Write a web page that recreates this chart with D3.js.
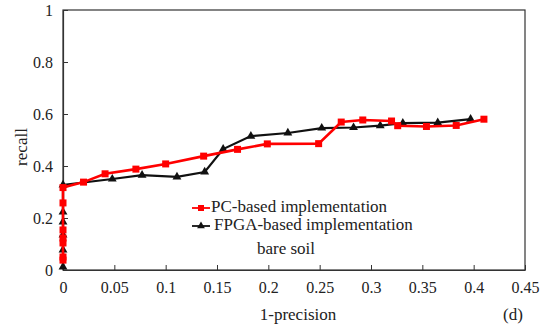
<!DOCTYPE html>
<html>
<head>
<meta charset="utf-8">
<script src="https://cdn.jsdelivr.net/npm/d3@7"></script>
<style>
  body { margin: 0; background: #fff; }
  svg text { font-family: "Times New Roman", "Liberation Serif", "DejaVu Serif", serif; fill: #222; }
</style>
</head>
<body>
<div id="chart"></div>
<script>
// data
const pcX = [0, 0, 0, 0, 0, 0, 0, 0.02, 0.041, 0.071, 0.1, 0.137, 0.17, 0.199, 0.249, 0.271, 0.292, 0.32, 0.326, 0.354, 0.383, 0.41];
const pcY = [0.038, 0.05, 0.104, 0.123, 0.154, 0.258, 0.317, 0.338, 0.37, 0.388, 0.408, 0.438, 0.464, 0.485, 0.486, 0.569, 0.577, 0.573, 0.555, 0.552, 0.556, 0.58];
const fpgaX = [0, 0, 0, 0, 0, 0, 0.048, 0.077, 0.111, 0.138, 0.156, 0.183, 0.219, 0.252, 0.283, 0.309, 0.331, 0.365, 0.397];
const fpgaY = [0.012, 0.077, 0.135, 0.185, 0.223, 0.327, 0.35, 0.365, 0.358, 0.377, 0.465, 0.515, 0.527, 0.546, 0.548, 0.555, 0.565, 0.567, 0.58];

const xTicks = [0, 0.05, 0.1, 0.15, 0.2, 0.25, 0.3, 0.35, 0.4, 0.45];
const xTickLabels = ["0", "0.05", "0.1", "0.15", "0.2", "0.25", "0.3", "0.35", "0.4", "0.45"];
const yTicks = [0, 0.2, 0.4, 0.6, 0.8, 1];
const yTickLabels = ["0", "0.2", "0.4", "0.6", "0.8", "1"];

const seriesNames = ["PC-based implementation", "FPGA-based implementation"];

const FONT = '"Times New Roman", "Liberation Serif", "DejaVu Serif", serif';

// dimensions
const WIDTH = 540;
const HEIGHT = 327;
const MARGIN_TOP = 10;
const MARGIN_LEFT = 63;
const MARGIN_RIGHT = 15;
const MARGIN_BOTTOM = 57;

const $svg = d3.select('#chart').append('svg')
  .attr('width', WIDTH)
  .attr('height', HEIGHT);

const scaleX = d3.scaleLinear()
  .domain([0, 0.45])
  .range([MARGIN_LEFT, WIDTH - MARGIN_RIGHT]);

const scaleY = d3.scaleLinear()
  .domain([0, 1])
  .range([HEIGHT - MARGIN_BOTTOM, MARGIN_TOP]);

// frame
$svg.append('rect')
  .attr('x', scaleX(0))
  .attr('y', scaleY(1))
  .attr('width', scaleX(0.45) - scaleX(0))
  .attr('height', scaleY(0) - scaleY(1))
  .attr('fill', 'none')
  .attr('stroke', '#333')
  .attr('stroke-width', 1.2);

// axes
const axisX = $svg.append('g')
  .attr('transform', `translate(0, ${scaleY(0)})`)
  .call(d3.axisBottom(scaleX)
    .tickValues(xTicks)
    .tickFormat((d, i) => xTickLabels[i])
    .tickSizeInner(-5)
    .tickSizeOuter(0)
    .tickPadding(12));

const axisY = $svg.append('g')
  .attr('transform', `translate(${scaleX(0)}, 0)`)
  .call(d3.axisLeft(scaleY)
    .tickValues(yTicks)
    .tickFormat((d, i) => yTickLabels[i])
    .tickSizeInner(-5)
    .tickSizeOuter(0)
    .tickPadding(10));

$svg.selectAll('g').attr('font-family', null);
$svg.selectAll('.domain').attr('stroke', '#333').attr('stroke-width', 1.2);
$svg.selectAll('.tick line').attr('stroke', '#333');
$svg.selectAll('.tick text')
  .style('font-family', FONT)
  .style('font-size', '16px')
  .attr('fill', '#222');

// axis titles
$svg.append('text')
  .attr('x', 23)
  .attr('y', 147)
  .attr('transform', 'rotate(-90, 23, 147)')
  .attr('text-anchor', 'middle')
  .attr('dominant-baseline', 'middle')
  .style('font-size', '17px')
  .text('recall');

$svg.append('text')
  .attr('x', 298)
  .attr('y', 320)
  .attr('text-anchor', 'middle')
  .style('font-size', '17px')
  .text('1-precision');

$svg.append('text')
  .attr('x', 513)
  .attr('y', 320)
  .attr('text-anchor', 'middle')
  .style('font-size', '17px')
  .text('(d)');

// lines
const line = d3.line()
  .x(d => scaleX(d[0]))
  .y(d => scaleY(d[1]));

const pcData = pcX.map((x, i) => [x, pcY[i]]);
const fpgaData = fpgaX.map((x, i) => [x, fpgaY[i]]);

const triangle = d3.symbol().type(d3.symbolTriangle).size(34);

$svg.append('path')
  .datum(fpgaData)
  .attr('d', line)
  .attr('fill', 'none')
  .attr('stroke', '#111')
  .attr('stroke-width', 2.2);

$svg.append('g').selectAll('path')
  .data(fpgaData)
  .join('path')
  .attr('d', triangle)
  .attr('transform', d => `translate(${scaleX(d[0])}, ${scaleY(d[1])})`)
  .attr('fill', '#111');

$svg.append('path')
  .datum(pcData)
  .attr('d', line)
  .attr('fill', 'none')
  .attr('stroke', '#ff0000')
  .attr('stroke-width', 2.6);

$svg.append('g').selectAll('rect')
  .data(pcData)
  .join('rect')
  .attr('x', d => scaleX(d[0]) - 3.5)
  .attr('y', d => scaleY(d[1]) - 3.5)
  .attr('width', 7)
  .attr('height', 7)
  .attr('fill', '#ff0000');

// legend
const $legend = $svg.append('g');
const legendRows = [
  { name: seriesNames[0], color: '#ff0000', y: 208 },
  { name: seriesNames[1], color: '#111', y: 226 }
];
legendRows.forEach((r, i) => {
  $legend.append('line')
    .attr('x1', 192).attr('x2', 210)
    .attr('y1', r.y).attr('y2', r.y)
    .attr('stroke', r.color)
    .attr('stroke-width', 1.8);
  if (i === 0) {
    $legend.append('rect')
      .attr('x', 198).attr('y', r.y - 3)
      .attr('width', 6).attr('height', 6)
      .attr('fill', r.color);
  } else {
    $legend.append('path')
      .attr('d', d3.symbol().type(d3.symbolTriangle).size(26))
      .attr('transform', `translate(201, ${r.y})`)
      .attr('fill', r.color);
  }
  $legend.append('text')
    .attr('x', i === 0 ? 211 : 214)
    .attr('y', r.y)
    .attr('dominant-baseline', 'middle')
    .style('font-size', '17px')
    .text(r.name);
});

$svg.append('text')
  .attr('x', 286)
  .attr('y', 250)
  .attr('text-anchor', 'middle')
  .attr('dominant-baseline', 'middle')
  .style('font-size', '17px')
  .text('bare soil');
</script>
</body>
</html>
